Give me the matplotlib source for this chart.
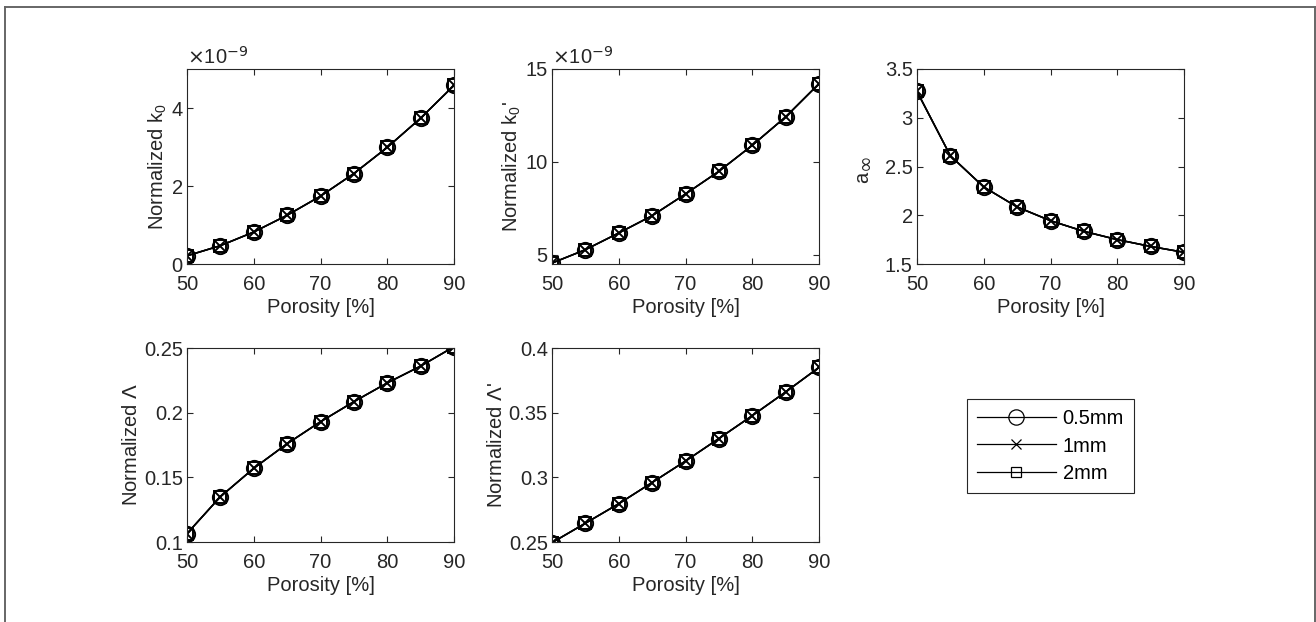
import matplotlib
matplotlib.use("Agg")
import matplotlib.pyplot as plt
from matplotlib.lines import Line2D
from matplotlib.ticker import FuncFormatter

plt.rcParams['font.family'] = ['Liberation Sans', 'DejaVu Sans']
plt.rcParams['mathtext.fontset'] = 'custom'
plt.rcParams['mathtext.rm'] = 'Liberation Sans'
plt.rcParams['mathtext.it'] = 'Liberation Sans:italic'

porosity = [50, 55, 60, 65, 70, 75, 80, 85, 90]
series_labels = ['0.5mm', '1mm', '2mm']
series_markers = ['o', 'x', 's']

k0 = [0.21e-9, 0.47e-9, 0.82e-9, 1.25e-9, 1.74e-9, 2.32e-9, 2.99e-9, 3.74e-9, 4.58e-9]
k0p = [4.55e-9, 5.27e-9, 6.17e-9, 7.10e-9, 8.27e-9, 9.49e-9, 10.89e-9, 12.42e-9, 14.21e-9]
alpha_inf = [3.27, 2.61, 2.29, 2.085, 1.944, 1.835, 1.75, 1.68, 1.62]
lam = [0.1065, 0.135, 0.157, 0.176, 0.193, 0.2085, 0.223, 0.236, 0.251]
lamp = [0.2495, 0.2645, 0.2796, 0.296, 0.3126, 0.33, 0.3477, 0.366, 0.385]

panels = [
    (k0, 'Normalized k$_0$', (0, 5e-9), [0, 2e-9, 4e-9], 1e-9, 'custom'),
    (k0p, "Normalized k$_0$'", (4.5e-9, 15e-9), [5e-9, 10e-9, 15e-9], 1e-9, 'custom'),
    (alpha_inf, None, (1.5, 3.5), [1.5, 2, 2.5, 3, 3.5], None, 'custom'),
    (lam, 'Normalized $\\Lambda$', (0.1, 0.25), [0.1, 0.15, 0.2, 0.25], None, 'dejavusans'),
    (lamp, "Normalized $\\Lambda$'", (0.25, 0.4), [0.25, 0.3, 0.35, 0.4], None, 'dejavusans'),
]

W, H = 1316, 622
fig = plt.figure(figsize=(W / 100, H / 100), dpi=100)

txt = '#262626'
spine = '#262626'
FS = 14.5
lefts = [187, 552, 917]
rows = [(69, 264), (348, 542)]
positions = [(lefts[0], rows[0]), (lefts[1], rows[0]), (lefts[2], rows[0]),
             (lefts[0], rows[1]), (lefts[1], rows[1])]
aw = 267


def make_fmt(scale):
    def f(v, pos):
        if scale:
            v = v / scale
        return f'{round(v, 6):g}'
    return FuncFormatter(f)


handles = None
for (vals, ylabel, ylim, yticks, scale, mfam), (lx, (ty, by)) in zip(panels, positions):
    ax = fig.add_axes([lx / W, 1 - by / H, aw / W, (by - ty) / H])
    hs = []
    for lab, mk in zip(series_labels, series_markers):
        ms = {'o': 11, 'x': 8, 's': 8}[mk]
        h, = ax.plot(porosity, vals, color='black', lw=1.1, marker=mk,
                     markersize=ms, markerfacecolor='none',
                     markeredgecolor='black', markeredgewidth=1.4, label=lab)
        hs.append(h)
    if handles is None:
        handles = hs
    ax.set_xlim(50, 90)
    ax.set_ylim(*ylim)
    ax.set_xticks([50, 60, 70, 80, 90])
    ax.set_yticks(yticks)
    ax.xaxis.set_major_formatter(make_fmt(None))
    ax.yaxis.set_major_formatter(make_fmt(scale))
    if scale:
        ax.text(0.0, 1.005, '$\\times$10$^{-9}$', transform=ax.transAxes,
                fontsize=FS, color=txt, ha='left', va='bottom',
                math_fontfamily='dejavusans')
    ax.tick_params(direction='in', length=4, width=0.8, top=True, right=True,
                   labelsize=FS, colors=txt)
    ax.tick_params(axis='x', pad=8)
    ax.tick_params(axis='y', pad=3)
    for s in ax.spines.values():
        s.set_color(spine)
        s.set_linewidth(0.8)
    ax.set_xlabel('Porosity [%]', fontsize=FS, color=txt, labelpad=3)
    if ylabel is not None:
        ax.set_ylabel(ylabel, fontsize=FS, color=txt, labelpad=2,
                      math_fontfamily=mfam)
    else:
        # a with a large infinity subscript
        ax.text(-0.204, 0.446, 'a', transform=ax.transAxes, rotation=90,
                rotation_mode='anchor', ha='center', va='center',
                fontsize=FS, color=txt)
        ax.text(-0.192, 0.525, '\u221e', transform=ax.transAxes, rotation=90,
                rotation_mode='anchor', ha='center', va='center',
                fontsize=FS, color=txt, family='DejaVu Sans')

leg = fig.legend(handles=handles, labels=series_labels, loc='upper left',
                 bbox_to_anchor=(967 / W, 1 - 399 / H), borderaxespad=0,
                 fontsize=FS, handlelength=3.9, handletextpad=0.35,
                 labelspacing=0.42, borderpad=0.5, fancybox=False,
                 edgecolor='#262626', framealpha=1)
leg.get_frame().set_linewidth(0.8)
for lh in leg.legend_handles:
    lh.set_markersize({'o': 11, 'x': 7, 's': 7}[lh.get_marker()])
    lh.set_markeredgewidth(0.9)
    lh.set_linewidth(0.9)

# outer frame
fx0, fx1, fy = 4.5 / W, 1315 / W, 1 - 6.5 / H
for xs, ys in [([fx0, fx1], [fy, fy]), ([fx0, fx0], [fy, 0]), ([fx1, fx1], [fy, 0])]:
    fig.add_artist(Line2D(xs, ys, transform=fig.transFigure, color='#666666', lw=1.4))

fig.savefig('out.png', dpi=100)
